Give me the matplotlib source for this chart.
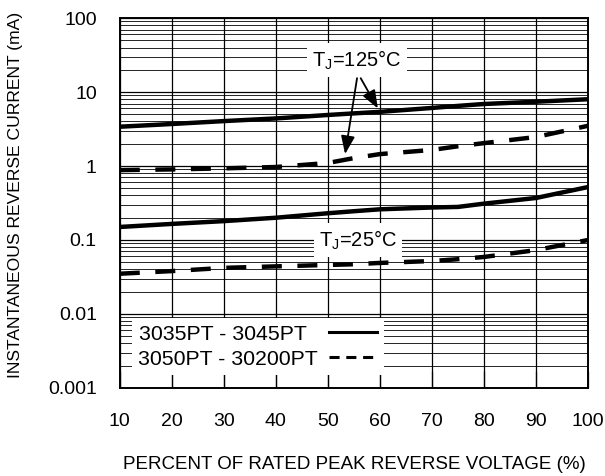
import matplotlib.pyplot as plt
import numpy as np
from matplotlib.ticker import LogLocator, NullFormatter

plt.rcParams["font.family"] = ["Liberation Sans", "DejaVu Sans"]

# percent of rated peak reverse voltage
voltage_pct = [10, 20, 30, 40, 50, 55, 60, 70, 75, 80, 90, 100]

# TJ = 125 C
solid_125 = [3.4, 3.7, 4.05, 4.4, 4.9, 5.15, 5.4, 6.1, 6.5, 6.9, 7.4, 8.0]
dashed_125 = [0.88, 0.9, 0.93, 0.97, 1.1, 1.28, 1.45, 1.65, 1.85, 2.04, 2.47, 3.5]

# TJ = 25 C
solid_25 = [0.15, 0.165, 0.18, 0.2, 0.23, 0.245, 0.26, 0.275, 0.28, 0.31, 0.37, 0.52]
dashed_25 = [0.035, 0.038, 0.042, 0.044, 0.046, 0.047, 0.049, 0.052, 0.055, 0.059, 0.073, 0.1]

x_ticks = [10, 20, 30, 40, 50, 60, 70, 80, 90, 100]
y_ticks = [0.001, 0.01, 0.1, 1, 10, 100]
y_labels = ["0.001", "0.01", "0.1", "1", "10", "100"]

# trailing spaces keep both legend texts left aligned
legend_labels = ["3035PT - 3045PT  ", "3050PT - 30200PT"]

fig = plt.figure(figsize=(6.05, 4.76), dpi=100)
ax = fig.add_axes([0.198, 0.185, 0.774, 0.777])

ax.set_yscale("log")
ax.set_xlim(10, 100)
ax.set_ylim(0.001, 100)

ax.set_xticks(x_ticks)
ax.set_yticks(y_ticks)
ax.set_yticklabels(y_labels)
ax.yaxis.set_minor_locator(LogLocator(base=10, subs=np.arange(2, 10), numticks=20))
ax.yaxis.set_minor_formatter(NullFormatter())

ax.grid(True, which="major", color="black", linewidth=0.9)
ax.grid(True, which="minor", axis="y", color="black", linewidth=0.6)
ax.set_axisbelow(True)

ax.tick_params(axis="x", which="major", direction="in", length=12, width=0.9,
               labelsize=14, pad=18)
ax.tick_params(axis="y", which="both", length=0, labelsize=14, pad=16.5)
for side in ax.spines.values():
    side.set_linewidth(1.4)

ax.plot(voltage_pct, solid_125, color="black", linewidth=3.2, zorder=3)
ax.plot(voltage_pct, dashed_125, color="black", linewidth=3.2, dashes=(4.5, 3.5),
        zorder=3)
ax.plot(voltage_pct, solid_25, color="black", linewidth=3.2, zorder=3)
ax.plot(voltage_pct, dashed_25, color="black", linewidth=3.2, dashes=(4.5, 3.5),
        zorder=3)

# legend drawn with thinner sample lines
h1, = ax.plot([], [], color="black", linewidth=2.2)
h2, = ax.plot([], [], color="black", linewidth=2.2, dashes=(3.3, 2.2))
leg = ax.legend([h1, h2], legend_labels, loc="lower left",
                bbox_to_anchor=(0.0256, 0.035), frameon=True, fancybox=False,
                edgecolor="none", facecolor="white", framealpha=1,
                fontsize=15.3, handlelength=2.3, markerfirst=False,
                handletextpad=0.5, borderpad=0.3, labelspacing=0.28,
                borderaxespad=0)

bbox = dict(boxstyle="square,pad=0.25", facecolor="white", edgecolor="none")
ax.text(55.6, 27, "T$_\\mathregular{J}$=125°C", fontsize=14.5,
        ha="center", va="center", bbox=bbox, zorder=4)
ax.text(55.8, 0.1, "T$_\\mathregular{J}$=25°C", fontsize=14.5,
        ha="center", va="center", bbox=bbox, zorder=4)

arrow = dict(arrowstyle="-|>,head_length=1.1,head_width=0.42", color="black",
             linewidth=1.3, shrinkA=0, shrinkB=0)
ax.annotate("", xy=(59.6, 6.0), xytext=(56.3, 15.4), arrowprops=arrow, zorder=5)
ax.annotate("", xy=(53.3, 1.45), xytext=(55.6, 15.4), arrowprops=arrow, zorder=5)

ax.set_xlabel("PERCENT OF RATED PEAK REVERSE VOLTAGE (%)", fontsize=13.5, labelpad=19)
ax.set_ylabel("INSTANTANEOUS REVERSE CURRENT (mA)", fontsize=12.6)
ax.yaxis.set_label_coords(-0.207, 0.522)

fig.savefig("out.png", dpi=100)
